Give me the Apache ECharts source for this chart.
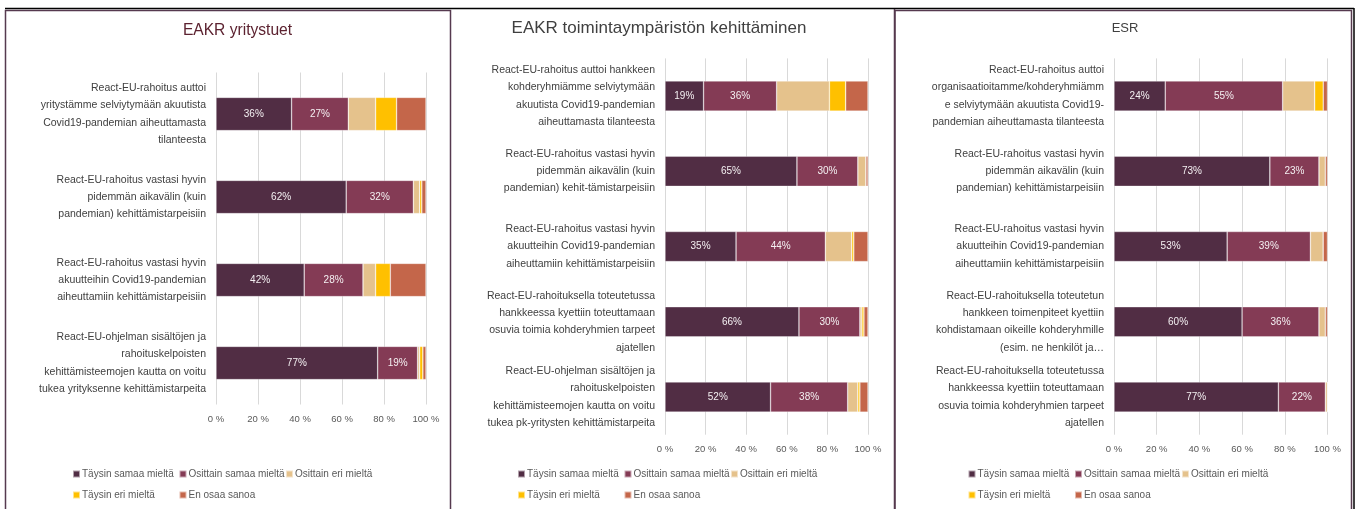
<!DOCTYPE html>
<html><head><meta charset="utf-8">
<script src="https://cdn.jsdelivr.net/npm/echarts@6/dist/echarts.min.js"></script>
<style>html,body{margin:0;padding:0;background:#fff;overflow:hidden}#c{width:1362px;height:509px}</style>
</head><body><div id="c"></div>
<script>
// ---- data ----
const seriesNames = ['Täysin samaa mieltä', 'Osittain samaa mieltä', 'Osittain eri mieltä', 'Täysin eri mieltä', 'En osaa sanoa'];
const titles = ['EAKR yritystuet', 'EAKR toimintaympäristön kehittäminen', 'ESR'];
const xTicks = [0, 20, 40, 60, 80, 100];

const p1Categories = [
  'React-EU-rahoitus auttoi\nyritystämme selviytymään akuutista\nCovid19-pandemian aiheuttamasta\ntilanteesta',
  'React-EU-rahoitus vastasi hyvin\npidemmän aikavälin (kuin\npandemian) kehittämistarpeisiin',
  'React-EU-rahoitus vastasi hyvin\nakuutteihin Covid19-pandemian\naiheuttamiin kehittämistarpeisiin',
  'React-EU-ohjelman sisältöjen ja\nrahoituskelpoisten\nkehittämisteemojen kautta on voitu\ntukea yrityksenne kehittämistarpeita'
];
const p1TaysinSamaa = [36, 62, 42, 77];
const p1OsittainSamaa = [27, 32, 28, 19];
const p1OsittainEri = [13, 3, 6, 1];
const p1TaysinEri = [10, 1, 7, 1.5];
const p1EOS = [14, 2, 17, 1.5];

const p2Categories = [
  'React-EU-rahoitus auttoi hankkeen\nkohderyhmiämme selviytymään\nakuutista Covid19-pandemian\naiheuttamasta tilanteesta',
  'React-EU-rahoitus vastasi hyvin\npidemmän aikavälin (kuin\npandemian) kehit-tämistarpeisiin',
  'React-EU-rahoitus vastasi hyvin\nakuutteihin Covid19-pandemian\naiheuttamiin kehittämistarpeisiin',
  'React-EU-rahoituksella toteutetussa\nhankkeessa kyettiin toteuttamaan\nosuvia toimia kohderyhmien tarpeet\najatellen',
  'React-EU-ohjelman sisältöjen ja\nrahoituskelpoisten\nkehittämisteemojen kautta on voitu\ntukea pk-yritysten kehittämistarpeita'
];
const p2TaysinSamaa = [19, 65, 35, 66, 52];
const p2OsittainSamaa = [36, 30, 44, 30, 38];
const p2OsittainEri = [26, 4, 13, 1, 5];
const p2TaysinEri = [8, 0, 1, 1, 1];
const p2EOS = [11, 1, 7, 2, 4];

const p3Categories = [
  'React-EU-rahoitus auttoi\norganisaatioitamme/kohderyhmiämm\ne selviytymään akuutista Covid19-\npandemian aiheuttamasta tilanteesta',
  'React-EU-rahoitus vastasi hyvin\npidemmän aikavälin (kuin\npandemian) kehittämistarpeisiin',
  'React-EU-rahoitus vastasi hyvin\nakuutteihin Covid19-pandemian\naiheuttamiin kehittämistarpeisiin',
  'React-EU-rahoituksella toteutetun\nhankkeen toimenpiteet kyettiin\nkohdistamaan oikeille kohderyhmille\n(esim. ne henkilöt ja…',
  'React-EU-rahoituksella toteutetussa\nhankkeessa kyettiin toteuttamaan\nosuvia toimia kohderyhmien tarpeet\najatellen'
];
const p3TaysinSamaa = [24, 73, 53, 60, 77];
const p3OsittainSamaa = [55, 23, 39, 36, 22];
const p3OsittainEri = [15, 3, 6, 3, 1];
const p3TaysinEri = [4, 0, 0, 0, 0];
const p3EOS = [2, 1, 2, 1, 0];

// ---- style / layout ----
const colors = ['#512d44', '#843b55', '#e5c28c', '#ffc000', '#c4664a'];
function hasFont(name) {
  const c = document.createElement('canvas').getContext('2d');
  const s = 'abcdefghijkl WWW mmm 0123';
  c.font = '20px monospace'; const w1 = c.measureText(s).width;
  c.font = '20px "' + name + '", monospace'; const w2 = c.measureText(s).width;
  return Math.abs(w1 - w2) > 0.5;
}
const narrow = hasFont('Liberation Sans Narrow');
const FF = narrow ? '"Liberation Sans Narrow", "Liberation Sans", sans-serif' : '"Liberation Sans", Arial, sans-serif';
const SZ = narrow ? {cat: 12.5, legend: 12, axis: 11.5, label: 11.5, t: [19, 20.5, 16]}
                  : {cat: 10.5, legend: 10, axis: 9.5, label: 10, t: [15.6, 17, 13]};

const panels = [
  {cats: p1Categories, vals: [p1TaysinSamaa, p1OsittainSamaa, p1OsittainEri, p1TaysinEri, p1EOS],
   grid: {left: 216, width: 210, top: 72.5, height: 332}, title: {x: 237.5, y: 32, color: '#5c2230'},
   legendX: [72, 178.5, 285]},
  {cats: p2Categories, vals: [p2TaysinSamaa, p2OsittainSamaa, p2OsittainEri, p2TaysinEri, p2EOS],
   grid: {left: 665, width: 203, top: 58.4, height: 376.3}, title: {x: 659, y: 30, color: '#404040'},
   legendX: [517, 623.5, 730]},
  {cats: p3Categories, vals: [p3TaysinSamaa, p3OsittainSamaa, p3OsittainEri, p3TaysinEri, p3EOS],
   grid: {left: 1114, width: 213.5, top: 58.4, height: 376.3}, title: {x: 1125, y: 30, color: '#404040'},
   legendX: [967.5, 1074, 1181]}
];
const legendRowY = [476, 497];
const legendPos = [[0, 0], [1, 0], [2, 0], [0, 1], [1, 1]];

const option = {
  animation: false,
  backgroundColor: '#fff',
  textStyle: {fontFamily: FF},
  title: [], grid: [], xAxis: [], yAxis: [], series: [], legend: [],
  graphic: []
};

panels.forEach((p, pi) => {
  option.title.push({
    text: titles[pi], left: p.title.x, top: p.title.y - SZ.t[pi] * 0.6, textAlign: 'center', padding: 0,
    textStyle: {fontFamily: FF, fontSize: SZ.t[pi], fontWeight: 'normal', color: p.title.color}
  });
  option.grid.push(Object.assign({containLabel: false}, p.grid));
  option.xAxis.push({
    type: 'value', gridIndex: pi, min: 0, max: 100, interval: 20,
    axisLine: {show: false}, axisTick: {show: false},
    splitLine: {show: true, lineStyle: {color: '#d9d9d9', width: 1}},
    axisLabel: {formatter: v => xTicks.includes(v) ? v + ' %' : '', color: '#595959', fontSize: SZ.axis, fontFamily: FF, margin: 10}
  });
  option.yAxis.push({
    type: 'category', gridIndex: pi, data: p.cats, inverse: true,
    axisLine: {show: false}, axisTick: {show: false}, splitLine: {show: false},
    axisLabel: {color: '#404040', fontSize: SZ.cat, fontFamily: FF, lineHeight: 17.3, align: 'right', margin: 10, interval: 0}
  });
  seriesNames.forEach((name, si) => {
    option.series.push({
      type: 'bar', name: name, stack: 'panel' + pi, xAxisIndex: pi, yAxisIndex: pi,
      data: p.vals[si], barWidth: '40%',
      itemStyle: {color: colors[si], borderColor: 'rgba(255,255,255,0.55)', borderWidth: 0.6},
      label: {show: si < 2, position: 'inside', formatter: d => d.value + '%', color: '#f4f0f2', fontSize: SZ.label, fontFamily: FF},
      emphasis: {disabled: true}
    });
  });
  seriesNames.forEach((name, si) => {
    const [col, row] = legendPos[si];
    option.legend.push({
      data: [name], left: p.legendX[col], top: legendRowY[row] - 7, padding: 0,
      icon: 'rect', itemWidth: 7, itemHeight: 7, selectedMode: false,
      textStyle: {color: '#595959', fontSize: SZ.legend, fontFamily: FF, padding: [0, 0, 0, -3]}
    });
  });
});

const purple = '#563a4f';
option.graphic = [
  {type: 'line', shape: {x1: 5, y1: 8.5, x2: 1354, y2: 8.5}, style: {stroke: '#000', lineWidth: 1.5}, silent: true},
  {type: 'line', shape: {x1: 1354, y1: 8, x2: 1354, y2: 520}, style: {stroke: '#000', lineWidth: 1.5}, silent: true},
  {type: 'rect', shape: {x: 5.5, y: 10.5, width: 445, height: 520}, style: {fill: 'none', stroke: purple, lineWidth: 1.5}, silent: true},
  {type: 'line', shape: {x1: 894.5, y1: 9, x2: 894.5, y2: 520}, style: {stroke: purple, lineWidth: 1.5}, silent: true},
  {type: 'rect', shape: {x: 895, y: 10.5, width: 456.5, height: 520}, style: {fill: 'none', stroke: purple, lineWidth: 1.5}, silent: true}
];

const chart = echarts.init(document.getElementById('c'), null, {renderer: 'canvas'});
chart.setOption(option);
</script>
</body></html>
